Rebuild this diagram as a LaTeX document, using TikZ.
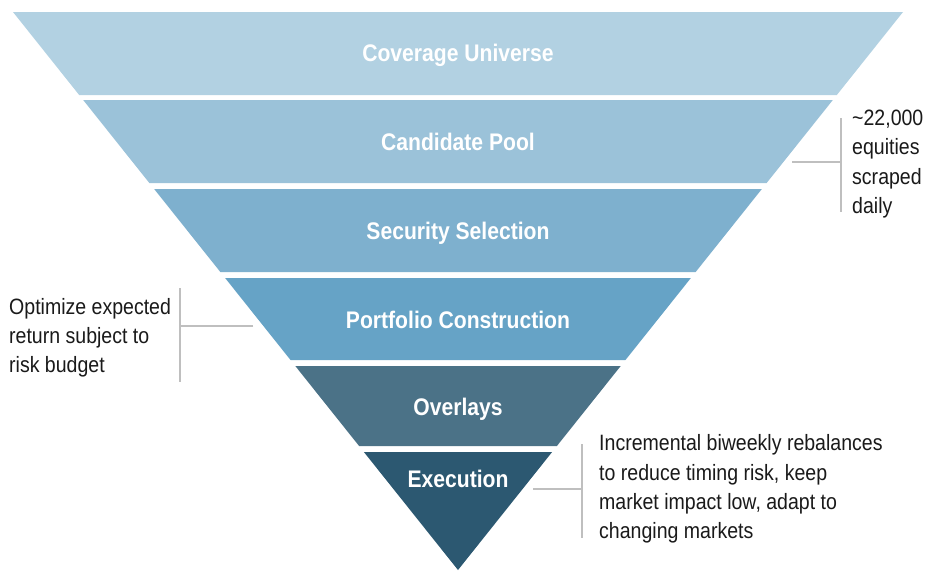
\documentclass[tikz,border=0pt]{standalone}
\usepackage{fontspec}
\setmainfont{Liberation Sans}
\newfontfamily\condfont[FakeStretch=0.88]{Liberation Sans}
\definecolor{cA}{HTML}{B2D1E2}
\definecolor{cB}{HTML}{9BC2D9}
\definecolor{cC}{HTML}{7EB0CE}
\definecolor{cD}{HTML}{66A3C6}
\definecolor{cE}{HTML}{4B7287}
\definecolor{cF}{HTML}{2C5871}
\definecolor{brkgray}{HTML}{BFBFBF}
\definecolor{sidetext}{HTML}{1A1A1A}
\newcommand\fband[4]{% name, top, bottom, colour
  \pgfmathsetmacro\fbLT{13+(#2-12)*0.79749}
  \pgfmathsetmacro\fbRT{903-(#2-12)*0.79749}
  \pgfmathsetmacro\fbLB{13+(#3-12)*0.79749}
  \pgfmathsetmacro\fbRB{903-(#3-12)*0.79749}
  \fill[#4] (\fbLT,#2) -- (\fbRT,#2) -- (\fbRB,#3) -- (\fbLB,#3) -- cycle;
}
\begin{document}
\begin{tikzpicture}[x=1pt,y=-1pt,
  title/.style={text=white,font=\condfont\bfseries\fontsize{24}{29}\selectfont,inner sep=0pt,anchor=base},
  side/.style={text=sidetext,font=\condfont\fontsize{22.2}{29.2}\selectfont,inner sep=0pt,align=left,anchor=west},
  brk/.style={draw=brkgray,line width=1.6pt}]
\useasboundingbox[fill=white] (0,0) rectangle (926,571);
\fband{b1}{12}{95}{cA}
\fband{b2}{100}{183}{cB}
\fband{b3}{189}{272}{cC}
\fband{b4}{278}{360}{cD}
\fband{b5}{366}{446}{cE}
\fband{b6}{452}{570}{cF}
\node[title] (t1) at (458,61) {Coverage Universe};
\node[title] (t2) at (458,150.5) {Candidate Pool};
\node[title] (t3) at (458,239.5) {Security Selection};
\node[title] (t4) at (458,328) {Portfolio Construction};
\node[title] (t5) at (458,415.5) {Overlays};
\node[title] (t6) at (458,487) {Execution};
% right bracket
\coordinate (r0) at (792,162);
\coordinate (r1) at (841,162);
\coordinate (r2) at (841,118);
\coordinate (r3) at (841,212);
\draw[brk] (r0) -- (r1);
\draw[brk] (r2) -- (r3);
\node[side] (rt) at (852,164) {\textasciitilde22,000\\equities\\scraped\\daily};
% left bracket
\coordinate (l0) at (253,326);
\coordinate (l1) at (180,326);
\coordinate (l2) at (180,288);
\coordinate (l3) at (180,382);
\draw[brk] (l0) -- (l1);
\draw[brk] (l2) -- (l3);
\node[side] (lt) at (9,338) {Optimize expected\\return subject to\\risk budget};
% bottom bracket
\coordinate (e0) at (533,489);
\coordinate (e1) at (582,489);
\coordinate (e2) at (582,444);
\coordinate (e3) at (582,538);
\draw[brk] (e0) -- (e1);
\draw[brk] (e2) -- (e3);
\node[side] (et) at (599,489) {Incremental biweekly rebalances\\to reduce timing risk, keep\\market impact low, adapt to\\changing markets};
\end{tikzpicture}
\end{document}
